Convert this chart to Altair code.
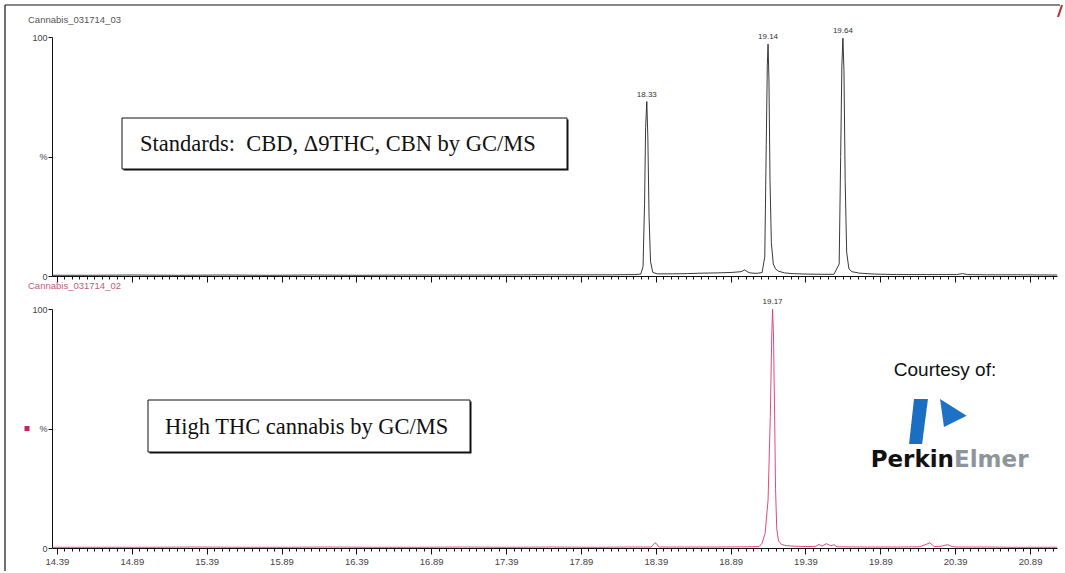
import altair as alt
import numpy as np
import pandas as pd

# Retention-time axis (minutes): labelled ticks every 0.5, minor ticks every 0.05
T_MIN, T_MAX = 14.357, 21.07
MAJOR_START, MAJOR_STEP = 14.39, 0.5
TICKS = [float(v) for v in np.round(np.arange(14.39, 21.06, 0.05), 2)]

# Standards run: CBD, delta-9 THC, CBN
std_time = [14.36, 14.60, 14.90, 15.20, 15.50, 15.80, 16.10, 16.40, 16.70, 17.00,
            17.30, 17.60, 17.90, 18.10, 18.25, 18.29, 18.305, 18.315, 18.322, 18.33,
            18.337, 18.345, 18.355, 18.37, 18.40, 18.50, 18.60, 18.70, 18.80, 18.90,
            18.96, 18.985, 19.00, 19.02, 19.06, 19.10, 19.118, 19.128, 19.135, 19.14,
            19.146, 19.153, 19.162, 19.175, 19.19, 19.21, 19.25, 19.30, 19.40, 19.50,
            19.58, 19.615, 19.625, 19.633, 19.64, 19.647, 19.655, 19.665, 19.68, 19.70,
            19.75, 19.85, 20.00, 20.20, 20.40, 20.44, 20.47, 20.60, 20.80, 21.07]
std_abund = [0.3, 0.3, 0.4, 0.3, 0.4, 0.3, 0.4, 0.3, 0.4, 0.4,
             0.4, 0.5, 0.5, 0.5, 0.6, 0.8, 4.0, 30.0, 62.0, 73.0,
             58.0, 25.0, 6.0, 1.5, 0.9, 0.9, 1.0, 1.2, 1.3, 1.5,
             1.8, 2.6, 1.8, 1.3, 1.1, 1.4, 8.0, 55.0, 88.0, 97.0,
             82.0, 40.0, 14.0, 5.0, 3.0, 2.0, 1.3, 1.0, 0.8, 0.7,
             0.7, 5.0, 50.0, 88.0, 99.5, 86.0, 40.0, 10.0, 3.0, 1.8,
             1.2, 0.8, 0.6, 0.6, 0.6, 1.0, 0.6, 0.5, 0.5, 0.4]
std_peak_time = [18.33, 19.14, 19.64]
std_peak_abund = [73.0, 97.0, 99.5]

# High-THC cannabis sample
thc_time = [14.36, 14.70, 15.00, 15.30, 15.60, 15.90, 16.20, 16.50, 16.80, 17.10,
            17.40, 17.70, 18.00, 18.20, 18.36, 18.385, 18.395, 18.41, 18.60, 18.80,
            19.00, 19.08, 19.10, 19.12, 19.14, 19.155, 19.165, 19.17, 19.176, 19.183,
            19.19, 19.198, 19.21, 19.23, 19.26, 19.30, 19.40, 19.46, 19.48, 19.50,
            19.53, 19.56, 19.58, 19.60, 19.80, 20.00, 20.15, 20.20, 20.22, 20.25,
            20.30, 20.34, 20.37, 20.40, 20.60, 20.80, 21.07]
thc_abund = [0.3, 0.3, 0.3, 0.4, 0.3, 0.3, 0.4, 0.3, 0.3, 0.4,
             0.3, 0.4, 0.3, 0.4, 0.4, 2.2, 1.8, 0.4, 0.4, 0.4,
             0.5, 0.6, 2.0, 6.0, 20.0, 55.0, 90.0, 100.0, 90.0, 60.0,
             25.0, 8.0, 3.0, 1.5, 1.0, 0.8, 0.6, 0.7, 1.5, 0.8,
             1.8, 0.9, 1.4, 0.5, 0.4, 0.4, 0.5, 1.6, 2.2, 0.6,
             0.8, 1.4, 0.6, 0.4, 0.4, 0.3, 0.3]
thc_peak_time = [19.17]
thc_peak_abund = [100.0]

W, H = 1005, 239
ONE = pd.DataFrame({"k": [0]})
x_scale = alt.Scale(domain=[T_MIN, T_MAX], nice=False, zero=False)
y_scale = alt.Scale(domain=[0, 100], nice=False, zero=False)

IS_MAJOR = (f"abs((datum.value - {MAJOR_START}) / {MAJOR_STEP} - "
            f"round((datum.value - {MAJOR_START}) / {MAJOR_STEP})) < 0.01")


def y_axis():
    return alt.Axis(values=[0, 50, 100], grid=False, title=None, tickSize=4,
                    labelPadding=1, domainColor="#111", tickColor="#111",
                    labelExpr="datum.value == 50 ? '%' : datum.label",
                    labelFontSize=9, labelColor="#444")


def x_axis(show_labels):
    return alt.Axis(values=TICKS, orient="bottom", grid=False, title=None,
                    tickSize={"condition": {"test": IS_MAJOR, "value": 6}, "value": 3},
                    labels=show_labels, labelFlush=False, labelOverlap=False,
                    labelExpr=f"{IS_MAJOR} ? format(datum.value, '.2f') : ''",
                    labelPadding=2, domainColor="#111", tickColor="#111",
                    labelFontSize=9.5, labelColor="#444")


def trace(times, abund, color, show_labels):
    df = pd.DataFrame({"t": times, "a": abund})
    return alt.Chart(df).mark_line(color=color, strokeWidth=0.9, clip=True).encode(
        x=alt.X("t:Q", scale=x_scale, axis=x_axis(show_labels)),
        y=alt.Y("a:Q", scale=y_scale, axis=y_axis()),
    )


def peak_labels(times, abund, show_labels):
    df = pd.DataFrame({"t": times, "a": abund})
    return alt.Chart(df).mark_text(fontSize=8, baseline="bottom", dy=-3,
                                   color="#333").encode(
        x=alt.X("t:Q", scale=x_scale, axis=x_axis(show_labels)),
        y=alt.Y("a:Q", scale=y_scale, axis=y_axis()),
        text=alt.Text("t:Q", format=".2f"),
    )


def label(txt, x, y, **kw):
    return alt.Chart(ONE).mark_text(**kw).encode(
        x=alt.value(x), y=alt.value(y), text=alt.value(txt))


def rule(x, y, x2=None, y2=None, color="#111", width=1.2):
    enc = {"x": alt.value(x), "y": alt.value(y)}
    if x2 is not None:
        enc["x2"] = alt.value(x2)
    if y2 is not None:
        enc["y2"] = alt.value(y2)
    return alt.Chart(ONE).mark_rule(color=color, strokeWidth=width).encode(**enc)


def boxed_note(txt, x0, x1, y0, y1, tx, ty):
    shadow = alt.Chart(ONE).mark_rect(fill="#111").encode(
        x=alt.value(x0 + 1.5), x2=alt.value(x1 + 1.5),
        y=alt.value(y0 + 1.5), y2=alt.value(y1 + 1.5))
    box = alt.Chart(ONE).mark_rect(fill="white", stroke="#111", strokeWidth=1).encode(
        x=alt.value(x0), x2=alt.value(x1), y=alt.value(y0), y2=alt.value(y1))
    text = label(txt, tx, ty, align="left", baseline="middle",
                 font="Liberation Serif", fontSize=22.5, color="#111")
    return [shadow, box, text]


NO_FRAME = alt.ViewBackground(stroke="transparent", strokeWidth=0)

# Upper panel: standards
top = alt.layer(
    rule(-47, -32, x2=1008),
    rule(-47, -32, y2=256),
    rule(1010, -32, x2=1006, y2=-20, color="#c0282e", width=2),
    label("Cannabis_031714_03", -24, -17, align="left", baseline="middle",
          fontSize=9.5, color="#555"),
    *boxed_note("Standards:\u00a0 CBD, \u03949THC, CBN by GC/MS",
                70, 515, 81, 132, 88, 107),
    trace(std_time, std_abund, "#222", False),
    peak_labels(std_peak_time, std_peak_abund, False),
).properties(width=W, height=H, view=NO_FRAME)

# Logo glyphs as custom symbol paths
BAR_PATH = "M -0.2 -1 L 0.42 -1 L 0.16 1 L -0.42 1 Z"
ARROW_PATH = "M -0.71 -1 L 1.19 0.19 L -0.43 1 Z"

bar = alt.Chart(ONE).mark_point(shape=BAR_PATH, filled=True, size=2025,
                                color="#1b6fc2", opacity=1, strokeWidth=0).encode(
    x=alt.value(866.5), y=alt.value(112.5))
arrow = alt.Chart(ONE).mark_point(shape=ARROW_PATH, filled=True, size=784,
                                  color="#1d72c8", opacity=1, strokeWidth=0).encode(
    x=alt.value(898), y=alt.value(104))
marker = alt.Chart(ONE).mark_square(size=25, color="#d01f5c", opacity=1).encode(
    x=alt.value(-25), y=alt.value(119.5))

# Lower panel: high-THC sample
bottom = alt.layer(
    rule(-47, -16, y2=262),
    label("Cannabis_031714_02", -24, -23, align="left", baseline="middle",
          fontSize=9.5, color="#c45a78"),
    marker,
    *boxed_note("High THC cannabis by GC/MS", 96, 418, 91, 143, 113, 118),
    label("Courtesy of:", 893, 61, align="center", baseline="middle",
          fontSize=19, color="#111"),
    bar,
    arrow,
    label("Perkin", 902, 151, align="right", baseline="middle", font="DejaVu Sans",
          fontWeight="bold", fontSize=23, color="#111"),
    label("Elmer", 902, 151, align="left", baseline="middle", font="DejaVu Sans",
          fontWeight="bold", fontSize=23, color="#8e949b"),
    trace(thc_time, thc_abund, "#e0356a", True),
    peak_labels(thc_peak_time, thc_peak_abund, True),
).properties(width=W, height=H, view=NO_FRAME)

chart = alt.vconcat(top, bottom, spacing=33, bounds="flush").properties(
    padding={"left": 4, "top": 4, "right": 0, "bottom": 0},
    background="white",
).configure_view(stroke="transparent", strokeWidth=0).configure(font="Liberation Sans")

chart.save("out.html", embed_options={"renderer": "svg", "actions": False})
